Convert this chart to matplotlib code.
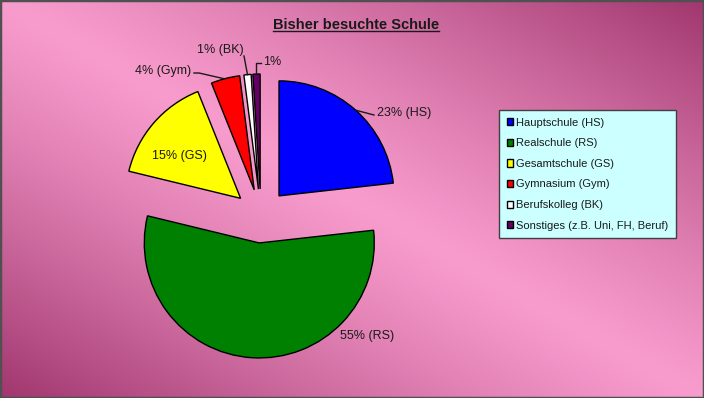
import matplotlib
matplotlib.use('Agg')
import matplotlib.pyplot as plt
import numpy as np
from matplotlib.patches import Rectangle

plt.rcParams['font.family'] = ['Liberation Sans', 'DejaVu Sans']

# Daten
schulen = ['Hauptschule (HS)', 'Realschule (RS)', 'Gesamtschule (GS)',
           'Gymnasium (Gym)', 'Berufskolleg (BK)', 'Sonstiges (z.B. Uni, FH, Beruf)']
anteile = [23, 55, 15, 4, 1, 1]
etiketten = ['23% (HS)', '55% (RS)', '15% (GS)', '4% (Gym)', '1% (BK)', '1%']
farben = ['#0000FF', '#008000', '#FFFF00', '#FF0000', '#FFFFFF', '#660066']

B, H = 704, 398
fig = plt.figure(figsize=(B / 100, H / 100), dpi=100)

# Hintergrund (Verlauf)
bg = fig.add_axes([0, 0, 1, 1])
xx, yy = np.meshgrid(np.linspace(0, 1, B), np.linspace(0, 1, H))
t = np.clip(np.abs(xx - yy), 0, 1) ** 1.2
hell = np.array([248, 155, 205]) / 255
dunkel = np.array([160, 55, 110]) / 255
img = hell * (1 - t[..., None]) + dunkel * t[..., None]
bg.imshow(img, extent=(0, B, H, 0), aspect='auto')
bg.axis('off')

# Kuchen, Achse in Pixeln (y nach oben); explode ist hier absolut (Pixel)
ax = fig.add_axes([0, 0, 1, 1])
ax.patch.set_alpha(0)
cx, cy, r = 261, H - 216, 115
wedges, _ = ax.pie(anteile, colors=farben, startangle=90, counterclock=False,
                   explode=[27] * len(anteile), radius=r, center=(cx, cy),
                   wedgeprops=dict(edgecolor='black', linewidth=1))
ax.set_xlim(0, B)
ax.set_ylim(0, H)
ax.axis('off')


def randpunkt(w):
    a = np.deg2rad((w.theta1 + w.theta2) / 2)
    return w.center[0] + w.r * np.cos(a), w.center[1] + w.r * np.sin(a)


# Beschriftungen (Position im Bild, y von oben)
lage = [(377, 113, 'left'), (340, 336, 'left'), (152, 156, 'left'),
        (191, 71, 'right'), (197, 50, 'left'), (263, 62, 'left')]
for i, (w, txt) in enumerate(zip(wedges, etiketten)):
    x, y, ha = lage[i]
    ax.text(x, H - y, txt, ha=ha, va='center', fontsize=9, color='#1a1a1a')
    px, py = randpunkt(w)
    if i == 0:
        ax.plot([px, x - 3], [py, H - y - 2], color='#1a1a1a', lw=1)
    elif i == 3:
        ax.plot([x + 3, x + 8, px - 2], [H - y - 2, H - y - 2, py], color='#1a1a1a', lw=1)
    elif i == 4:
        ax.plot([x + 47, px], [H - y - 6, py], color='#1a1a1a', lw=1)
    elif i == 5:
        ax.plot([px, px, x - 2], [py, H - y - 1, H - y - 1], color='#1a1a1a', lw=1)

# Titel
titel = ax.text(356, H - 25, 'Bisher besuchte Schule', ha='center', va='center',
                fontsize=10.5, fontweight='bold', color='#1a1a1a')

# Legende
leg = ax.legend(wedges, schulen, loc='upper left',
                bbox_to_anchor=(499 / B, 1 - 110 / H), bbox_transform=fig.transFigure,
                frameon=True, fancybox=False, fontsize=8, handlelength=0.6,
                handleheight=0.6, handletextpad=0.25, labelspacing=0.95,
                borderpad=0.7, borderaxespad=0)
rahmen = leg.get_frame()
rahmen.set_facecolor('#CCFFFF')
rahmen.set_edgecolor('#404040')
rahmen.set_linewidth(1)
rahmen.set_alpha(1)
for txt in leg.get_texts():
    txt.set_color('#1a1a1a')

# Rand
fig.patches.append(Rectangle((0, 0), 1, 1, transform=fig.transFigure, fill=False,
                             edgecolor='#505050', linewidth=2.5))

# Unterstreichung des Titels
fig.canvas.draw()
bb = titel.get_window_extent()
ax.plot([bb.x0, bb.x1], [bb.y0 + 1, bb.y0 + 1], color='#1a1a1a', lw=1)

fig.savefig('out.png', dpi=100)
